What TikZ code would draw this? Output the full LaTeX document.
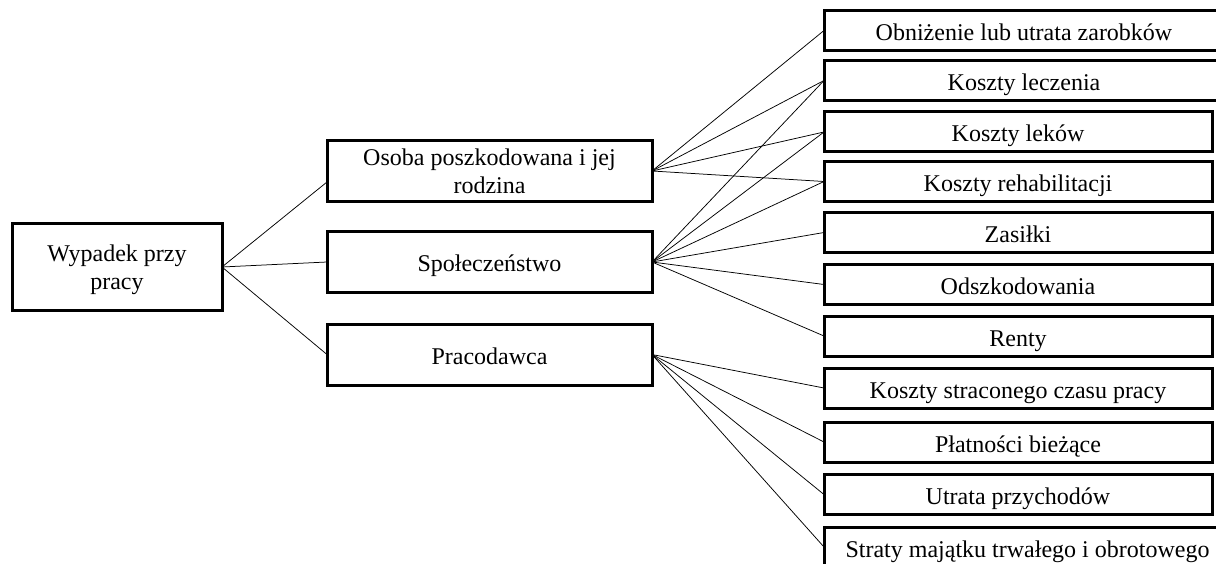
\documentclass[tikz,border=0pt]{standalone}
\usepackage{fontspec}
\setmainfont{Liberation Serif}

\tikzset{
    box/.style={draw, line width=3pt, inner sep=0pt, outer sep=0pt, align=center,
        font=\fontsize{24}{28}\selectfont},
    oneline/.style={text height=20pt, text depth=0pt},
    rootbox/.style={box, text depth=0pt, minimum width=210pt, minimum height=86pt},
    groupbox/.style={box, minimum width=325pt, minimum height=61pt},
    costbox/.style={box, oneline, minimum width=388pt, minimum height=40pt},
    link/.style={line width=0.75pt}
}

\begin{document}
\begin{tikzpicture}[x=1pt, y=-1pt]
    \useasboundingbox (0,0) rectangle (1216,564);

    % Accident
    \node [rootbox] (wypadek) at (117,267) {Wypadek przy\\pracy};

    % Who pays
    \node [groupbox] (osoba) at (489.5,171) {Osoba poszkodowana i jej\\rodzina};
    \node [groupbox, oneline] (spol) at (489.5,262) {Społeczeństwo};
    \node [groupbox, oneline] (prac) at (489.5,354.5) {Pracodawca};

    % Costs
    \node [costbox, minimum width=400pt] (zarobki) at (1024,30.5) {Obniżenie lub utrata zarobków};
    \node [costbox, minimum width=400pt] (leczenie) at (1024,80.5) {Koszty leczenia};
    \node [costbox] (leki) at (1018,132) {Koszty leków};
    \node [costbox] (rehab) at (1018,181.5) {Koszty rehabilitacji};
    \node [costbox] (zasilki) at (1018,232.5) {Zasiłki};
    \node [costbox] (odszk) at (1018,284.5) {Odszkodowania};
    \node [costbox] (renty) at (1018,336) {Renty};
    \node [costbox] (czas) at (1018,388) {Koszty straconego czasu pracy};
    \node [costbox] (platnosci) at (1018,442) {Płatności bieżące};
    \node [costbox] (przychody) at (1018,494.5) {Utrata przychodów};
    \node [costbox, minimum width=407pt] (majatek) at (1027.5,547) {Straty majątku trwałego i obrotowego};

    % Accident to parties
    \draw [link] (wypadek.east) -- ([yshift=-11pt]osoba.west);
    \draw [link] (wypadek.east) -- (spol.west);
    \draw [link] (wypadek.east) -- (prac.west);

    % Injured person and family
    \draw [link] (osoba.east) -- (zarobki.west);
    \draw [link] (osoba.east) -- (leczenie.west);
    \draw [link] (osoba.east) -- (leki.west);
    \draw [link] (osoba.east) -- (rehab.west);

    % Society
    \draw [link] (spol.east) -- (leczenie.west);
    \draw [link] (spol.east) -- (leki.west);
    \draw [link] (spol.east) -- (rehab.west);
    \draw [link] (spol.east) -- (zasilki.west);
    \draw [link] (spol.east) -- (odszk.west);
    \draw [link] (spol.east) -- (renty.west);

    % Employer
    \draw [link] (prac.east) -- (czas.west);
    \draw [link] (prac.east) -- (platnosci.west);
    \draw [link] (prac.east) -- (przychody.west);
    \draw [link] (prac.east) -- (majatek.west);
\end{tikzpicture}
\end{document}
